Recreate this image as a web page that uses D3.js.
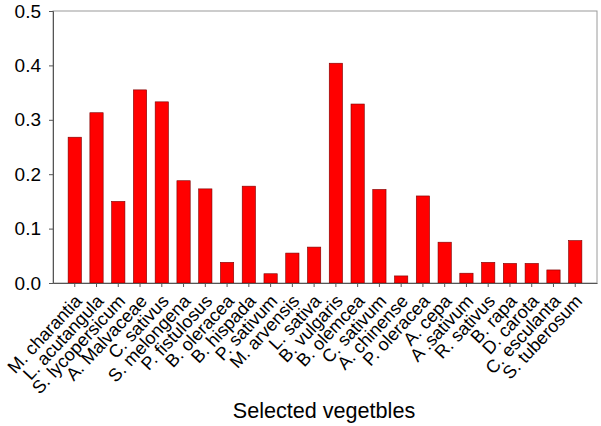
<!DOCTYPE html>
<html><head><meta charset="utf-8">
<script src="https://cdn.jsdelivr.net/npm/d3@7"></script>
<style>body{margin:0;background:#fff;} svg{display:block;}</style>
</head><body>
<svg id="c" width="601" height="426"></svg>
<script>
const categories = ["M. charantia","L. acutangula","S. lycopersicum","A. Malvaceae","C. sativus","S. melongena","P. fistulosus","B. oleracea","B. hispada","P. sativum","M. arvensis","L. sativa","B. vulgaris","B. olemcea","C. sativum","A. chinense","P. oleracea","A. cepa","A .sativum","R. sativus","B. rapa","D. carota","C. esculanta","S. tuberosum"];
const values = [0.268,0.313,0.150,0.355,0.333,0.188,0.173,0.038,0.178,0.017,0.055,0.066,0.404,0.329,0.172,0.013,0.160,0.075,0.018,0.038,0.036,0.036,0.024,0.078];
const yTicks = [0.0,0.1,0.2,0.3,0.4,0.5];
const xTitle = "Selected vegetbles";

const L=53, R=597, T=11, B=283;
const svg = d3.select("#c");
const x = d3.scaleBand().domain(categories).range([L,R]).paddingInner(0.39).paddingOuter(0.695);
const y = d3.scaleLinear().domain([0,0.5]).range([B,T]);
const font = "'Liberation Sans', Arial, sans-serif";

// frame
svg.append("rect").attr("x",L).attr("y",T).attr("width",R-L).attr("height",B-T)
  .attr("fill","none").attr("stroke","#9a9a9a").attr("stroke-width",1);

svg.append("g").selectAll("rect").data(values).join("rect")
  .attr("x",(d,i)=>x(categories[i])).attr("width",x.bandwidth())
  .attr("y",d=>y(d)).attr("height",d=>B-y(d))
  .attr("fill","#ff0000").attr("stroke","#7a0000").attr("stroke-width",0.6);

const ya = svg.append("g").attr("transform",`translate(${L},0)`)
  .call(d3.axisLeft(y).tickValues(yTicks).tickFormat(d3.format(".1f")).tickSize(4).tickPadding(8));
ya.select(".domain").attr("stroke","#555");
ya.selectAll(".tick line").attr("stroke","#555");
ya.selectAll("text").attr("font-family",font).attr("font-size",19).attr("fill","#000");

const xa = svg.append("g").attr("transform",`translate(0,${B})`)
  .call(d3.axisBottom(x).tickSize(4).tickSizeOuter(0));
xa.select(".domain").attr("stroke","#555");
xa.selectAll(".tick line").attr("stroke","#555");
xa.selectAll("text").attr("font-family",font).attr("font-size",18).attr("fill","#000")
  .attr("text-anchor","end").attr("dy",null).attr("y",null)
  .attr("transform","translate(8,19) rotate(-47)");

svg.append("text").attr("x",324).attr("y",418).attr("text-anchor","middle")
  .attr("font-family",font).attr("font-size",21.6).text(xTitle);
</script>
</body></html>
